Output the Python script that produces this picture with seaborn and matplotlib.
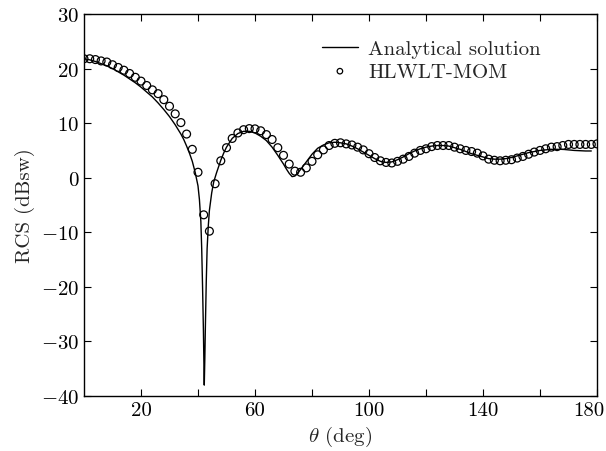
import seaborn as sns
import matplotlib.pyplot as plt
from matplotlib.ticker import FixedLocator, FixedFormatter
from matplotlib.transforms import ScaledTranslation

# analytical curve (theta in deg, RCS in dBsw)
theta_line = [0, 2, 4, 6, 8, 10, 12, 14, 16, 18, 20, 22, 24, 26, 28, 30, 32, 34, 35, 36,
              37, 38, 39, 40, 40.5, 41, 41.3, 41.6, 41.9, 42.1, 42.2, 42.4, 42.6, 42.9,
              43.2, 43.6, 44, 44.8, 45.5, 46.5, 48, 49, 50, 52, 54, 56, 58, 60, 62, 64,
              66, 68, 70, 71, 72, 73, 74, 75, 76, 78, 80, 82, 84, 86, 88, 90, 92, 94, 96,
              98, 100, 102, 104, 106, 108, 110, 112, 114, 116, 118, 120, 122, 124, 126,
              128, 130, 132, 134, 136, 138, 140, 142, 144, 146, 148, 150, 152, 154, 156,
              158, 160, 162, 164, 166, 168, 170, 172, 174, 176, 178]
rcs_line = [21.8, 21.6, 21.3, 20.9, 20.5, 20.0, 19.4, 18.8, 18.1, 17.4, 16.6, 15.7, 14.8,
            13.7, 12.5, 11.2, 9.7, 8.0, 7.0, 5.8, 4.5, 3.0, 1.0, -1.5, -4.0, -8.0, -13.0,
            -20.0, -28.0, -35.0, -38.0, -33.0, -27.0, -19.0, -13.0, -8.9, -6.0, -2.8,
            -0.8, 0.9, 3.2, 4.5, 5.6, 7.2, 8.1, 8.5, 8.5, 8.2, 7.6, 6.8, 5.6, 4.1, 2.5,
            1.6, 0.8, 0.2, 0.3, 0.9, 1.5, 2.9, 4.3, 5.4, 6.0, 6.4, 6.5, 6.4, 6.2, 5.8,
            5.3, 4.7, 4.1, 3.5, 3.0, 2.8, 2.9, 3.3, 3.8, 4.4, 4.9, 5.3, 5.6, 5.8, 5.9,
            5.9, 5.8, 5.5, 5.2, 4.8, 4.4, 4.1, 3.8, 3.5, 3.4, 3.4, 3.5, 3.7, 4.0, 4.3,
            4.6, 4.8, 5.0, 5.1, 5.2, 5.2, 5.2, 5.1, 5.0, 4.95, 4.9, 4.9]

# HLWLT-MOM result, every 2 deg
theta_mom = list(range(0, 181, 2))
rcs_mom = [21.8, 21.8, 21.65, 21.4, 21.2, 20.7, 20.2, 19.7, 19.1, 18.4, 17.7, 16.9, 16.1,
           15.4, 14.3, 13.1, 11.7, 10.1, 8.0, 5.2, 1.0, -6.8, -9.8, -1.1, 3.1, 5.5, 7.2,
           8.2, 8.8, 9.0, 8.95, 8.6, 7.9, 7.0, 5.5, 4.1, 2.5, 1.2, 1.0, 1.8, 3.0, 4.2,
           5.1, 5.9, 6.3, 6.4, 6.2, 6.0, 5.6, 5.1, 4.4, 3.7, 3.1, 2.8, 2.7, 3.0, 3.4, 3.9,
           4.5, 5.0, 5.3, 5.7, 5.9, 5.9, 5.9, 5.6, 5.3, 5.0, 4.8, 4.5, 4.0, 3.4, 3.2, 3.1,
           3.2, 3.3, 3.6, 3.9, 4.3, 4.7, 5.0, 5.3, 5.6, 5.7, 5.9, 6.1, 6.1, 6.1, 6.1, 6.1,
           6.2]

x_ticks = [20, 40, 60, 80, 100, 120, 140, 160, 180]
x_tick_labels = ['20', '', '60', '', '100', '', '140', '', '180']

sns.set_theme(style='ticks')
plt.rcParams['font.family'] = 'serif'
plt.rcParams['font.serif'] = ['cmr10', 'DejaVu Serif']
plt.rcParams['mathtext.fontset'] = 'cm'
plt.rcParams['axes.formatter.use_mathtext'] = True

fig = plt.figure(figsize=(6.06, 4.52), dpi=100)
ax = fig.add_axes([84 / 606, 1 - 397 / 452, 513 / 606, 382 / 452])

sns.lineplot(x=theta_line, y=rcs_line, color='black', linewidth=1.0,
             label='Analytical solution', ax=ax)
sns.scatterplot(x=theta_mom, y=rcs_mom, marker='o', s=32, facecolor='none',
                edgecolor='black', linewidth=0.9, label='HLWLT-MOM', ax=ax, zorder=3)

ax.set_xlim(0, 180)
ax.set_ylim(-40, 30)
ax.xaxis.set_major_locator(FixedLocator(x_ticks))
ax.xaxis.set_major_formatter(FixedFormatter(x_tick_labels))
ax.set_yticks(range(-40, 31, 10))
ax.tick_params(direction='in', top=True, right=True, length=5, width=0.8,
               labelsize=15, colors='black')
for sp in ax.spines.values():
    sp.set_linewidth(1.0)
    sp.set_color('black')

# last x label sits a little left of its tick, as in the original
last_lbl = ax.get_xticklabels()[-1]
last_lbl.set_transform(last_lbl.get_transform() + ScaledTranslation(-6 / 72, 0, fig.dpi_scale_trans))

ax.set_xlabel(r'$\theta$ (deg)', fontsize=15)
ax.set_ylabel('RCS (dBsw)', fontsize=15)

leg = ax.legend(loc='upper left', bbox_to_anchor=(0.444, 0.961), frameon=False, borderpad=0,
                fontsize=15, handlelength=1.7, handletextpad=0.5, labelspacing=0.2,
                markerscale=0.7)

plt.savefig('out.png', dpi=100)
